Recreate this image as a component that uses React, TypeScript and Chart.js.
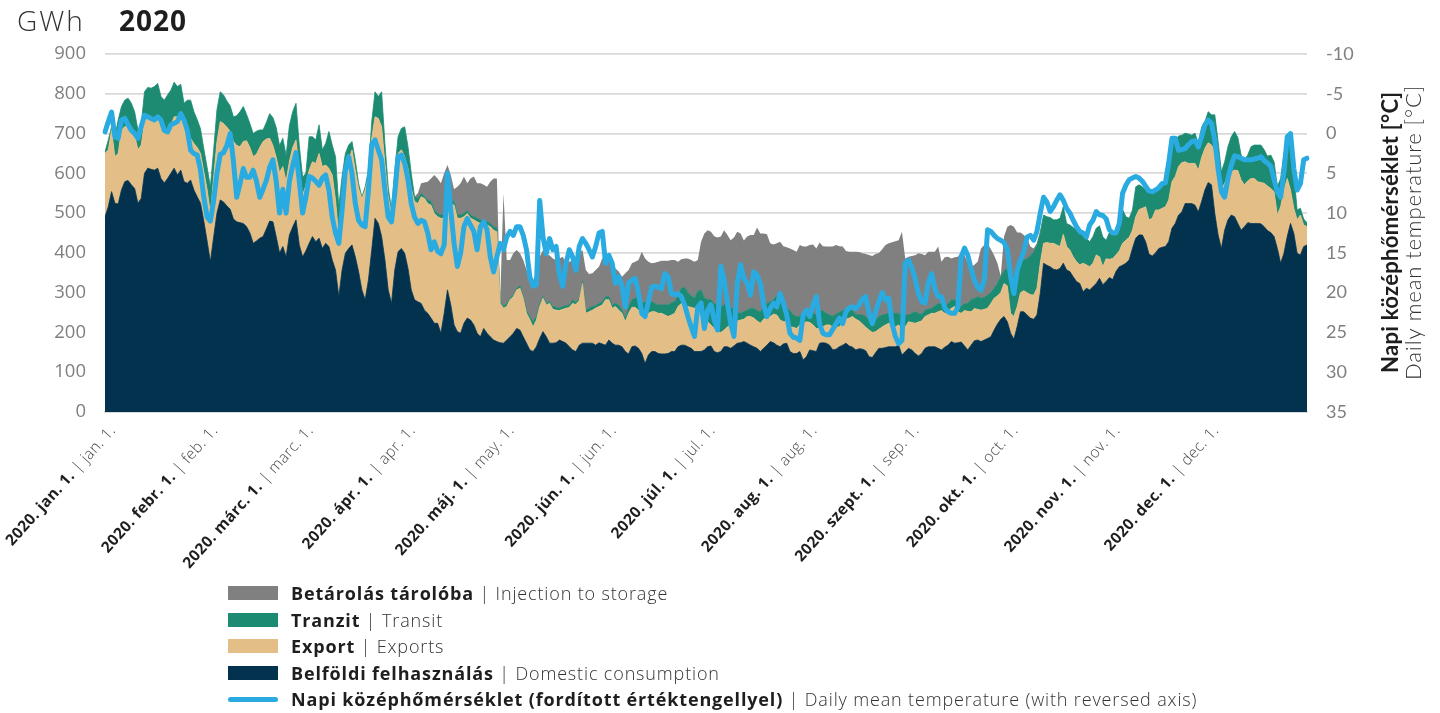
import React, { useEffect, useRef } from 'react';
import { Chart, registerables } from 'chart.js';

Chart.register(...registerables);

// ---- tick labels (month starts, day index in 2020) ----
const monthTickDays = [0, 31, 60, 91, 121, 152, 182, 213, 244, 274, 305, 335];
const monthLabelsHu = ['2020. jan. 1.', '2020. febr. 1.', '2020. márc. 1.', '2020. ápr. 1.', '2020. máj. 1.', '2020. jún. 1.', '2020. júl. 1.', '2020. aug. 1.', '2020. szept. 1.', '2020. okt. 1.', '2020. nov. 1.', '2020. dec. 1.'];
const monthLabelsEn = ['jan. 1.', 'feb. 1.', 'marc. 1.', 'apr. 1.', 'may. 1.', 'jun. 1.', 'jul. 1.', 'aug. 1.', 'sep. 1.', 'oct. 1.', 'nov. 1.', 'dec. 1.'];

// ---- daily series, GWh (one row per month) ----
const domestic = [
  491,516,554,525,523,558,579,582,571,562,525,537,600,613,610,608,613,587,576,587,600,613,596,608,579,575,583,558,541,525,480,
  430,378,440,500,533,528,518,510,485,478,476,474,466,450,424,430,437,441,460,480,478,440,400,416,390,445,465,483,420,
  390,405,424,441,428,437,411,424,416,382,357,290,357,399,411,420,390,353,307,282,332,407,487,474,441,382,307,273,357,403,411,
  399,361,307,282,277,273,256,248,236,223,223,198,248,307,269,219,202,198,223,236,231,219,198,189,210,198,189,181,177,174,
  173,181,189,198,210,206,189,173,156,152,164,185,202,189,173,173,174,181,177,173,164,156,152,168,173,173,173,173,168,174,171,
  168,181,173,168,168,164,152,146,164,166,160,147,122,143,152,152,147,146,146,147,152,152,164,168,168,164,160,152,152,152,
  156,164,166,152,149,152,164,164,160,166,173,174,177,173,168,164,160,152,160,168,177,174,168,164,171,173,152,147,147,152,131,
  139,156,154,152,173,174,173,168,156,158,164,168,173,166,163,156,159,158,154,139,137,149,160,160,162,164,164,164,168,143,152,
  160,156,147,141,147,160,164,164,164,160,156,163,168,177,173,174,176,166,156,168,179,181,177,181,185,189,206,221,233,240,
  227,198,183,215,252,252,244,236,233,244,298,374,369,365,359,357,361,374,357,353,340,328,323,302,311,307,315,323,336,320,328,
  338,333,353,365,369,374,382,411,437,445,445,428,397,392,400,411,414,416,428,462,474,495,503,524,524,524,520,503,529,558,
  577,571,499,445,411,457,483,495,491,474,457,466,476,474,474,474,473,466,456,451,441,411,374,399,441,474,449,399,395,416,420,
];

const exportsGwh = [
  159,143,155,117,127,151,138,139,138,134,134,134,130,129,128,130,125,134,129,122,121,129,146,139,159,130,105,117,124,125,125,
  130,122,150,180,197,197,198,196,195,192,191,206,216,215,218,218,228,239,226,208,192,200,202,201,190,185,200,201,190,
  155,165,184,188,197,213,206,197,196,214,176,151,184,209,222,239,218,209,230,276,260,281,255,264,276,243,234,226,209,247,248,
  243,251,255,247,247,268,281,276,284,276,268,289,239,192,255,301,285,289,268,263,256,264,280,285,260,272,277,276,276,99,
  88,84,93,92,97,105,97,75,76,62,67,80,84,80,100,85,82,74,81,88,99,117,118,112,150,75,79,83,93,91,98,
  114,101,88,97,88,84,75,102,99,97,96,105,126,105,100,100,101,102,98,93,92,96,101,105,101,101,103,109,111,113,
  71,63,53,58,53,48,42,50,59,57,56,57,56,67,72,72,69,71,73,72,63,72,76,67,56,54,62,66,63,67,92,
  88,69,65,58,37,40,46,51,58,56,50,59,60,70,77,77,70,63,59,67,63,53,48,54,57,59,52,50,51,62,62,
  67,69,76,85,82,80,80,84,84,92,99,85,84,84,92,78,72,89,97,84,81,77,79,77,76,84,80,71,67,83,
  90,50,57,50,48,53,56,59,61,67,76,50,57,59,65,63,55,73,59,54,50,50,47,72,59,58,59,72,54,45,57,
  46,53,42,40,55,58,57,46,54,64,67,88,86,95,108,97,98,100,105,117,118,122,124,105,101,101,105,105,111,105,
  100,100,155,159,147,118,113,109,117,133,126,105,105,113,113,105,104,109,112,111,113,84,142,159,146,84,63,84,100,54,46,
];

const transit = [
  4,25,8,50,84,59,67,68,67,59,50,51,75,74,76,80,88,72,79,88,88,87,76,77,38,79,96,80,70,62,57,
  55,66,70,80,75,72,66,64,62,75,88,88,66,60,58,58,44,29,42,62,70,75,68,71,65,90,90,92,60,
  45,30,84,63,59,72,42,54,93,75,109,75,51,42,38,21,25,13,4,8,16,42,63,55,88,50,25,9,42,42,54,
  75,55,38,12,13,9,4,9,9,9,8,8,8,9,9,9,8,8,8,7,8,8,9,9,8,8,8,9,9,7,
  4,8,4,4,4,6,4,7,8,13,9,8,4,4,4,7,7,6,7,6,6,9,5,5,5,7,9,9,6,8,8,
  8,8,8,8,13,8,9,17,19,23,34,21,29,34,25,21,21,21,25,29,31,29,27,38,44,35,29,25,40,42,
  59,56,63,63,63,65,63,55,44,33,21,17,19,16,21,25,25,29,32,32,37,36,48,55,38,34,41,31,30,21,29,
  28,27,29,34,42,41,29,25,27,32,37,28,27,22,15,13,15,23,27,24,23,29,32,30,27,25,32,34,29,35,30,
  17,23,29,22,16,16,14,13,19,20,18,19,20,21,17,21,17,17,20,31,25,32,30,30,33,27,25,31,40,32,
  44,72,100,96,74,77,86,97,109,109,75,71,65,65,59,63,71,69,58,63,74,79,83,68,67,63,67,67,78,75,47,
  67,63,50,52,85,59,48,51,75,62,54,42,68,67,50,63,65,63,92,92,90,77,69,72,74,71,76,67,76,67,
  78,76,93,76,46,54,71,88,97,83,63,62,65,80,84,92,94,84,75,84,75,71,71,92,101,109,88,25,17,15,10,
];

const injection = [
  0,0,0,0,0,0,0,0,0,0,0,0,0,0,0,0,0,0,0,0,0,0,0,0,0,0,0,0,0,0,0,
  0,0,0,0,0,0,0,0,0,0,0,0,0,0,0,0,0,0,0,0,0,0,0,0,0,0,0,0,0,
  0,0,0,0,0,0,0,0,0,0,0,0,0,0,0,0,0,0,0,0,0,0,0,0,0,0,0,0,0,0,0,
  0,0,0,0,13,25,36,46,58,88,88,80,105,113,63,31,71,80,93,69,92,101,88,92,93,88,105,121,125,0,
  285,109,96,105,96,82,92,102,100,105,109,117,117,121,117,121,119,125,125,108,109,100,99,114,79,102,86,84,90,92,109,
  100,92,96,88,84,84,113,92,92,92,92,130,109,96,97,102,109,111,111,111,107,105,86,73,73,86,90,92,79,121,
  163,174,171,169,174,176,188,176,169,183,203,201,179,185,184,184,210,197,184,175,147,139,132,142,152,153,156,163,163,180,164,
  161,168,173,167,174,162,168,172,175,174,166,161,145,145,148,157,158,155,157,165,169,166,160,165,174,176,179,181,184,213,142,
  146,144,142,151,152,138,145,142,136,144,105,122,118,104,107,117,138,122,102,81,85,88,125,132,130,109,83,51,2,86,
  105,150,126,90,77,63,51,24,8,4,8,0,0,0,0,0,0,0,0,0,0,0,0,0,0,0,0,0,0,0,0,
  0,0,0,0,0,0,0,0,0,0,0,0,0,0,0,0,0,0,0,0,0,0,0,0,0,0,0,0,0,0,
  0,0,0,0,0,0,0,0,0,0,0,0,0,0,0,0,0,0,0,0,0,0,0,0,0,0,0,0,0,0,0,
];

// daily mean temperature, °C
const temperature = [
  -0.2,-1.5,-2.7,0.4,0.6,-1.7,-1.9,-1.1,-0.4,0,0.6,-0.9,-2.3,-2.1,-1.9,-1.7,-2.1,-1.7,-0.4,-0.2,-1.1,-1.3,-1.5,-2.5,-1.7,-0.4,2.1,2.5,2.7,4.6,8,
  10.5,11,8.4,5,2.6,2.4,1.5,0,3.5,8,6.3,4.4,5.5,5.5,4.6,6,8,7,5.9,4.2,3.3,6,10,7,10,6,4,2.4,6,
  10,8,5.4,5.6,6,6.5,5.6,5.2,7.1,10.5,12.5,13.8,9.6,4.6,2.9,5,8.8,10.9,11.5,11.7,7.1,1.4,0.8,2.1,3.3,7.1,10.5,11.1,7.5,2.9,2.7,
  3.7,5.8,8.8,10.5,11.3,10.9,11.1,12.5,14.6,13.6,14.8,15.1,14,5,9.6,13.8,16.7,15,11.7,10.7,11.5,12.3,14.6,11.7,11.1,12.1,15.5,17.4,15.5,13.8,
  14.6,13,12.3,12.8,11.7,11.7,12.8,14.6,18,19.2,19,8.4,13,15.1,13.2,14.6,14.2,17.8,19.2,16.3,14.6,15.5,17.2,14.2,13.2,13.8,14.6,15.5,14.2,12.5,12.3,
  16.3,15.3,16.3,18.8,18,19.2,21.8,18.8,18.4,18.2,20.1,22.6,23,21.1,19.3,19.2,19.3,19.5,17.6,18,20.1,20.3,20.1,20.5,21.5,23,24.3,25.5,21.8,21.3,
  24.5,22.2,21.5,23.4,24.7,16.7,18.4,21.3,23.9,25.5,18.8,16.5,18.2,18.8,20.3,17.4,17.8,18.8,21.5,23,22,21.3,21.8,20.1,21.3,22.8,25.1,25.6,25.7,26,22.8,
  22.2,23,21.5,20.5,23.9,25.1,25.3,25.3,24.6,23.9,23.2,23.9,22.4,21.9,21.8,22,21.5,20.8,20.5,22.6,23.9,22.4,21.1,20,20.9,20.7,23.9,25.5,26.4,26,16.3,
  15.9,16.9,18.2,20.1,21.1,21.3,18.8,17.6,19.5,20.5,20.5,21.9,22.4,22.6,22.6,21.8,15.5,14.4,15.3,17,18.4,19.3,19.7,18.4,12.1,12.3,12.8,13.2,13.4,13.7,
  14.6,18,20.1,17.2,15.9,14.8,13,12.8,13.4,12.3,10,8,8.6,9.8,9.2,8.4,7.7,8.4,9.4,10,10.9,11.7,12.3,12.5,13,11.5,10.9,9.8,10.2,10.3,10.7,
  12.1,12.5,12.5,11.3,7.5,6.5,5.8,5.6,5.4,5.6,6,6.6,7.2,7.3,7.1,6.8,6.3,6.2,3.7,0.6,0.6,2.1,2,1.9,1.4,1,0.9,1.7,0.4,-1.1,
  -1.7,-1.3,0.8,4.4,7.3,8,5.6,4,2.8,2.9,3.1,3.3,3.3,3.3,3.2,3.1,2.9,3.4,3.7,4.1,5.8,7.3,8,4.8,0.4,0,4.4,7.1,6.3,3.3,3.1,
];

const COLORS = {
  domestic: '#03324F',
  exports: '#E3BF87',
  transit: '#1C8B72',
  injection: '#808080',
  temp: '#29ABE2',
};

const legendItems = [
  { color: COLORS.injection, bold: 'Betárolás tárolóba', light: 'Injection to storage', line: false },
  { color: COLORS.transit, bold: 'Tranzit', light: 'Transit', line: false },
  { color: COLORS.exports, bold: 'Export', light: 'Exports', line: false },
  { color: COLORS.domestic, bold: 'Belföldi felhasználás', light: 'Domestic consumption', line: false },
  { color: COLORS.temp, bold: 'Napi középhőmérséklet (fordított értéktengellyel)', light: 'Daily mean temperature (with reversed axis)', line: true },
];

const FONT = "'Open Sans', 'DejaVu Sans', sans-serif";

export default function App() {
  const canvasRef = useRef<HTMLCanvasElement | null>(null);

  useEffect(() => {
    const canvas = canvasRef.current;
    if (!canvas) return;
    const dayLabels = domestic.map((_, i) => String(i));

    const xLabelPlugin = {
      id: 'monthLabels',
      afterDraw(chart: any) {
        const ctx = chart.ctx as any;
        const xs = chart.scales.x;
        monthTickDays.forEach((d, i) => {
          const x = xs.getPixelForValue(d);
          const hu = monthLabelsHu[i];
          const en = ' | ' + monthLabelsEn[i];
          ctx.save();
          ctx.translate(x + 8, 428);
          ctx.rotate(-48 * Math.PI / 180);
          ctx.textBaseline = 'middle';
          ctx.textAlign = 'left';
          ctx.letterSpacing = '0.35px';
          ctx.font = `300 15.5px ${FONT}`;
          const w2 = ctx.measureText(en).width;
          ctx.font = `700 15.5px ${FONT}`;
          const w1 = ctx.measureText(hu).width;
          ctx.fillStyle = '#1e1e1e';
          ctx.fillText(hu, -(w1 + w2), 0);
          ctx.font = `300 15.5px ${FONT}`;
          ctx.fillStyle = '#4a4a4a';
          ctx.fillText(en, -w2, 0);
          ctx.restore();
        });
      },
    };

    const chart = new Chart(canvas, {
      type: 'line',
      data: {
        labels: dayLabels,
        datasets: [
          {
            label: 'Napi középhőmérséklet',
            data: temperature,
            yAxisID: 'y1',
            borderColor: COLORS.temp,
            borderWidth: 5,
            borderCapStyle: 'round',
            borderJoinStyle: 'round',
            fill: false,
            pointRadius: 0,
            order: 0,
          },
          {
            label: 'Belföldi felhasználás',
            data: domestic,
            yAxisID: 'y',
            borderColor: COLORS.domestic,
            backgroundColor: COLORS.domestic,
            borderWidth: 0.8,
            fill: 'origin',
            pointRadius: 0,
            order: 1,
          },
          {
            label: 'Export',
            data: exportsGwh,
            yAxisID: 'y',
            borderColor: COLORS.exports,
            backgroundColor: COLORS.exports,
            borderWidth: 0.8,
            fill: '-1',
            pointRadius: 0,
            order: 2,
          },
          {
            label: 'Tranzit',
            data: transit,
            yAxisID: 'y',
            borderColor: COLORS.transit,
            backgroundColor: COLORS.transit,
            borderWidth: 0.8,
            fill: '-1',
            pointRadius: 0,
            order: 3,
          },
          {
            label: 'Betárolás tárolóba',
            data: injection,
            yAxisID: 'y',
            borderColor: COLORS.injection,
            backgroundColor: COLORS.injection,
            borderWidth: 0,
            fill: '-1',
            pointRadius: 0,
            order: 4,
          },
        ],
      },
      options: {
        responsive: false,
        maintainAspectRatio: false,
        animation: false,
        events: [],
        layout: { padding: { top: 54, left: 0, right: 0, bottom: 0 } },
        plugins: {
          legend: { display: false },
          tooltip: { enabled: false },
          title: { display: false },
        },
        elements: { line: { tension: 0 }, point: { radius: 0 } },
        scales: {
          x: {
            type: 'category',
            offset: false,
            grid: { display: false, drawTicks: false },
            border: { display: true, color: '#d9d9d9', width: 2 },
            ticks: { display: false },
            afterFit: (s: any) => { s.height = 713 - 412; },
          },
          y: {
            position: 'left',
            stacked: true,
            min: 0,
            max: 900,
            ticks: {
              stepSize: 100,
              padding: 19,
              color: '#7f7f7f',
              font: { family: FONT, size: 18.5 },
            },
            grid: { color: '#d9d9d9', lineWidth: 1.8, drawTicks: false },
            border: { display: false },
            afterFit: (s: any) => { s.width = 105; },
          },
          y1: {
            position: 'right',
            reverse: true,
            min: -10,
            max: 35,
            ticks: {
              stepSize: 5,
              padding: 19,
              color: '#7f7f7f',
              font: { family: "Lato, 'Open Sans', sans-serif", size: 18 },
            },
            grid: { display: false, drawTicks: false },
            border: { display: false },
            afterFit: (s: any) => { s.width = 1440 - 1307; },
          },
        },
      },
      plugins: [xLabelPlugin],
    } as any);

    return () => { chart.destroy(); };
  }, []);

  return (
    <div style={{ position: 'fixed', left: 0, top: 0, width: 1440, height: 713, background: '#fff', overflow: 'hidden', fontFamily: FONT }}>
      <canvas ref={canvasRef} width={1440} height={713} style={{ position: 'absolute', left: 0, top: 0, display: 'block' }} />
      <div style={{ position: 'absolute', left: 17, top: 1, fontSize: 28, fontWeight: 300, color: '#333', lineHeight: '38px', letterSpacing: '2px' }}>GWh</div>
      <div style={{ position: 'absolute', left: 119, top: 1, fontSize: 28, fontWeight: 700, color: '#1e1e1e', lineHeight: '38px', letterSpacing: '1px' }}>2020</div>
      <div
        style={{
          position: 'absolute', left: 1378, top: 82, height: 300, width: 46,
          writingMode: 'vertical-rl', transform: 'rotate(180deg)', textAlign: 'center',
          fontFamily: "Lato, 'Open Sans', sans-serif", fontSize: 22, lineHeight: '23px', color: '#1e1e1e', whiteSpace: 'nowrap',
        }}
      >
        <div style={{ fontWeight: 700, letterSpacing: '0.3px' }}>Napi középhőmérséklet [°C]</div>
        <div style={{ fontWeight: 300, color: '#333', letterSpacing: '0.9px' }}>Daily mean temperature [°C]</div>
      </div>
      <div style={{ position: 'absolute', left: 228, top: 580 }}>
        {legendItems.map((it, i) => (
          <div key={i} style={{ position: 'relative', height: 26.5, display: 'flex', alignItems: 'center' }}>
            {it.line ? (
              <div style={{ width: 50, height: 5, borderRadius: 3, background: it.color }} />
            ) : (
              <div style={{ width: 50, height: 14, background: it.color }} />
            )}
            <div style={{ marginLeft: 13, fontSize: 18, color: '#1e1e1e', whiteSpace: 'nowrap', letterSpacing: '0.85px' }}>
              <span style={{ fontWeight: 700 }}>{it.bold}</span>
              <span style={{ fontWeight: 300, color: '#333' }}>{' | ' + it.light}</span>
            </div>
          </div>
        ))}
      </div>
    </div>
  );
}
